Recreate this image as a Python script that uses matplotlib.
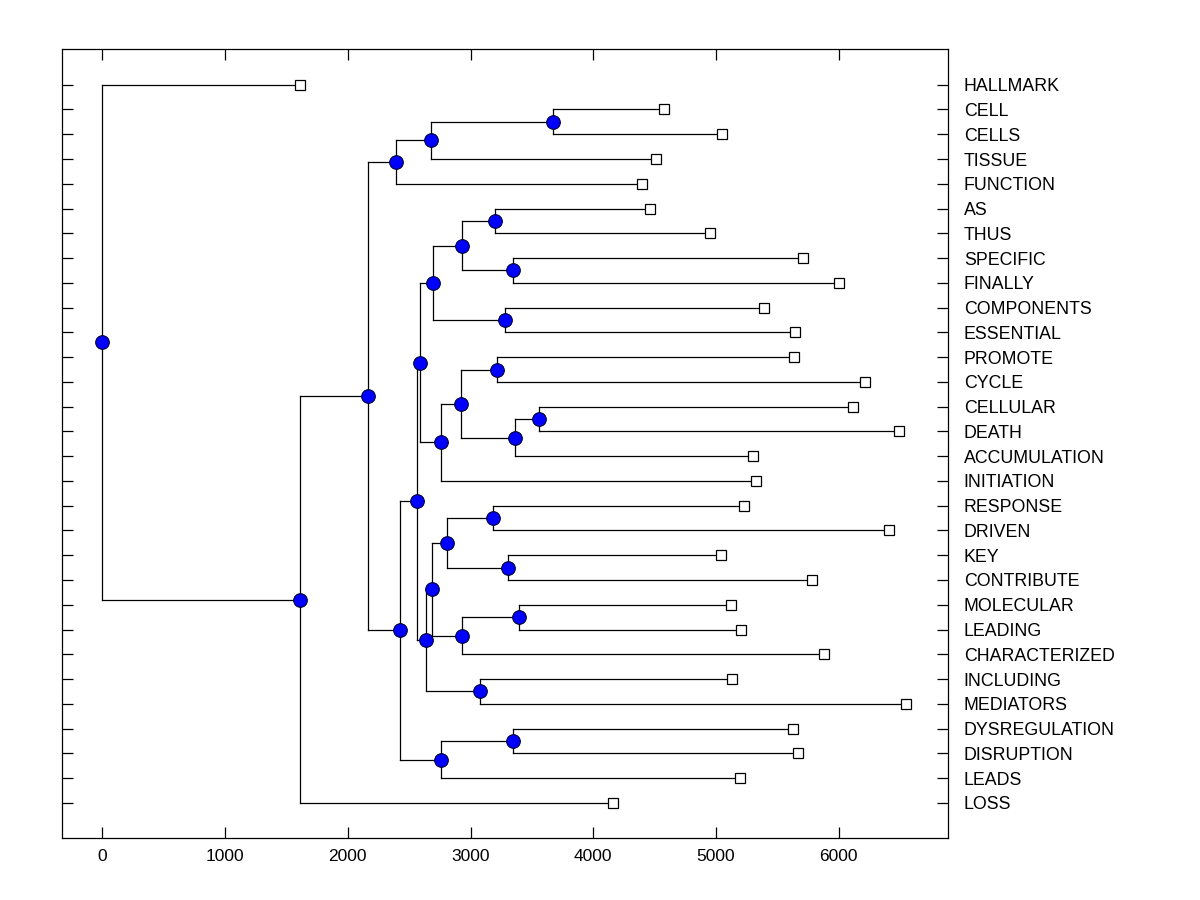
import matplotlib
matplotlib.use("Agg")
import matplotlib.pyplot as plt

plt.rcParams['font.family'] = ['Liberation Sans', 'DejaVu Sans']

# leaves, top to bottom, and their cumulative distance
leaf_names = ["HALLMARK", "CELL", "CELLS", "TISSUE", "FUNCTION", "AS", "THUS",
              "SPECIFIC", "FINALLY", "COMPONENTS", "ESSENTIAL", "PROMOTE", "CYCLE",
              "CELLULAR", "DEATH", "ACCUMULATION", "INITIATION", "RESPONSE", "DRIVEN",
              "KEY", "CONTRIBUTE", "MOLECULAR", "LEADING", "CHARACTERIZED", "INCLUDING",
              "MEDIATORS", "DYSREGULATION", "DISRUPTION", "LEADS", "LOSS"]
leaf_dist = [1611, 4577, 5049, 4511, 4397, 4462, 4951,
             5709, 6002, 5391, 5644, 5636, 6214,
             6116, 6491, 5302, 5326, 5229, 6410,
             5041, 5783, 5123, 5204, 5881, 5131,
             6549, 5628, 5668, 5196, 4160]

# internal nodes: name, distance, children
node_names = ["root", "A", "B", "C", "D", "E", "F", "G", "H", "I", "J", "K", "L", "M",
              "N", "O", "P", "Q", "R", "S", "T", "U", "V", "W", "X", "Y", "Z", "AA", "AB"]
node_dist = [0, 1611, 2165, 2393, 2678, 3672, 2426, 2565, 2589, 2695, 2931, 3200, 3346, 3281,
             2760, 2923, 3216, 3362, 3558, 2637, 2686, 2807, 3184, 3306, 2931, 3395, 3078, 2760, 3346]
node_children = [
    ["HALLMARK", "A"], ["B", "LOSS"], ["C", "F"], ["D", "FUNCTION"], ["E", "TISSUE"],
    ["CELL", "CELLS"], ["G", "AA"], ["H", "S"], ["I", "N"], ["J", "M"], ["K", "L"],
    ["AS", "THUS"], ["SPECIFIC", "FINALLY"], ["COMPONENTS", "ESSENTIAL"],
    ["O", "INITIATION"], ["P", "Q"], ["PROMOTE", "CYCLE"], ["R", "ACCUMULATION"],
    ["CELLULAR", "DEATH"], ["T", "Z"], ["U", "X"], ["V", "W"], ["RESPONSE", "DRIVEN"],
    ["KEY", "CONTRIBUTE"], ["Y", "CHARACTERIZED"], ["MOLECULAR", "LEADING"],
    ["INCLUDING", "MEDIATORS"], ["AB", "LEADS"], ["DYSREGULATION", "DISRUPTION"]]

pos = {}
for i, (n, d) in enumerate(zip(leaf_names, leaf_dist)):
    pos[n] = (d, i)
node_dist_map = dict(zip(node_names, node_dist))
node_kids = dict(zip(node_names, node_children))


def place(n):
    if n in pos:
        return pos[n]
    ys = [place(c)[1] for c in node_kids[n]]
    pos[n] = (node_dist_map[n], (min(ys) + max(ys)) / 2)
    return pos[n]


place("root")

fig = plt.figure(figsize=(12, 9), dpi=100)
ax = fig.add_axes([0.0519, 0.0686, 0.7379, 0.8766])

for n in node_names:
    x, y = pos[n]
    cys = [pos[c][1] for c in node_kids[n]]
    ax.plot([x, x], [min(cys), max(cys)], color="black", lw=0.9, zorder=1)
    for c in node_kids[n]:
        cx, cy = pos[c]
        ax.plot([x, cx], [cy, cy], color="black", lw=0.9, zorder=1)

ax.plot([pos[n][0] for n in leaf_names], [pos[n][1] for n in leaf_names], "s",
        ms=6.8, mfc="white", mec="black", mew=0.9, zorder=3, ls="none")
ax.plot([pos[n][0] for n in node_names], [pos[n][1] for n in node_names], "o",
        ms=9.8, mfc="#0000ff", mec="#000033", mew=0.8, zorder=4, ls="none")

ax.set_xlim(-326, 6888)
ax.set_ylim(30.43, -1.43)
ax.set_xticks([0, 1000, 2000, 3000, 4000, 5000, 6000])
ax.set_yticks(range(len(leaf_names)))
ax.set_yticklabels(leaf_names)
ax.tick_params(axis="x", direction="in", top=True, length=8, width=0.9, labelsize=12.5, pad=8)
ax.tick_params(axis="y", direction="in", left=True, right=True, labelleft=False,
               labelright=True, length=8, width=0.9, labelsize=12.8, pad=11.5)
for s in ax.spines.values():
    s.set_linewidth(0.9)

fig.savefig("out.png", dpi=100)
